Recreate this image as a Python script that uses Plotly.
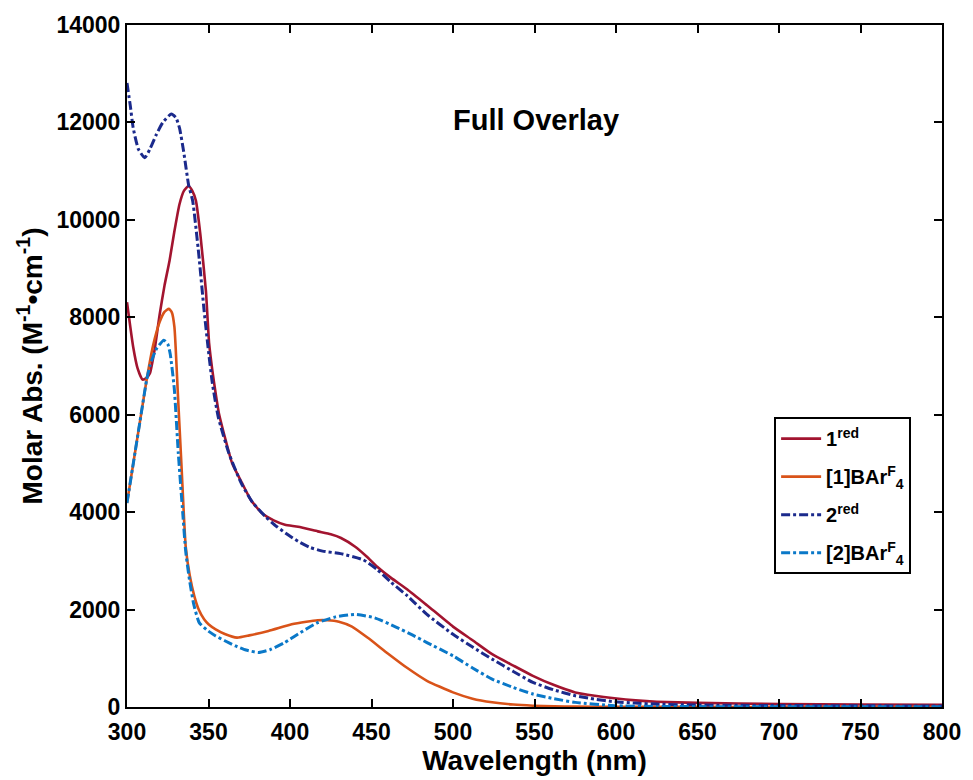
import plotly.graph_objects as go

# Molar absorptivity spectra (nm, M^-1 cm^-1)
wl_1red = [300, 303.8, 306.5, 309.5, 312, 314, 317, 320, 323, 326.1, 329, 332.2, 335,
           337.8, 340, 342.3, 345, 348.4, 350.4, 352.4, 354.4, 356.4, 360.5, 364.5,
           370.6, 376, 382.7, 390, 396.9, 405, 417, 425, 431.3, 440, 447, 453.5, 462,
           472, 484, 500, 512, 524, 537, 549, 562, 575, 587, 599, 612, 625, 650,
           700, 750, 800]
abs_1red = [8309, 7389, 6950, 6722, 6760, 6845, 7350, 8050, 8650, 9162, 9750, 10321,
            10600, 10695, 10600, 10389, 9700, 8548, 7458, 6900, 6436, 6027, 5481, 5004,
            4595, 4250, 3982, 3830, 3742, 3700, 3605, 3545, 3470, 3290, 3090, 2880,
            2650, 2413, 2090, 1650, 1370, 1084, 850, 640, 450, 300, 230, 178, 135, 108,
            85, 60, 50, 45]

wl_1ox = [300, 304, 308, 312, 316, 320, 323, 325.7, 327.5, 329.1, 331.1, 333.5, 336,
          338.5, 341.3, 344, 347.3, 350, 354.4, 360, 367.5, 375, 386.8, 401, 410, 417,
          423, 430, 438, 447.5, 460, 472, 484, 500, 512, 524, 537, 549, 562, 575, 600,
          650, 700, 800]
abs_1ox = [4186, 5030, 5870, 6707, 7420, 7900, 8110, 8174, 8100, 7798, 6503, 4900,
           3299, 2700, 2276, 2000, 1800, 1700, 1595, 1500, 1425, 1470, 1560, 1697,
           1750, 1780, 1780, 1750, 1650, 1425, 1100, 800, 538, 300, 170, 96, 50, 27,
           14, 8, 4, 2, 1, 1]

wl_2red = [300, 302, 303.8, 307, 310.9, 314, 318, 322, 327.1, 330, 332.2, 335, 337.8,
           340.3, 344, 347.3, 350, 352.4, 356, 362.5, 370, 377, 384.8, 392, 399,
           405, 412, 420, 431, 445, 453.5, 462, 472, 484, 500, 512, 524, 537, 549, 562,
           575, 587, 599, 612, 625, 650, 700, 750, 800]
abs_2red = [12808, 12350, 11888, 11450, 11274, 11450, 11752, 12000, 12174, 12100,
            11888, 11350, 10716, 10389, 9300, 8139, 7300, 6640, 5950, 5209, 4600,
            4200, 3912, 3700, 3530, 3400, 3280, 3200, 3149, 3020, 2822, 2560, 2280,
            1900, 1493, 1230, 982, 730, 505, 350, 231, 160, 108, 80, 60, 40, 30, 25, 20]

wl_2ox = [300, 304, 308, 312, 314, 318, 322.6, 325, 326.5, 329, 331.5, 334.2, 336,
          338.3, 341, 344.3, 349, 354.4, 360, 366.5, 373, 380.7, 388, 396.8, 405, 417,
          428, 440, 452, 465, 475, 484, 500, 512, 524, 537, 549, 562, 575, 599, 625,
          650, 700, 800]
abs_2ox = [4186, 5030, 5870, 6707, 7000, 7350, 7530, 7450, 7250, 6540, 5200, 3982,
           3200, 2618, 2100, 1732, 1580, 1458, 1360, 1254, 1170, 1119, 1180, 1323,
           1500, 1732, 1850, 1902, 1830, 1640, 1480, 1323, 1049, 800, 573, 400, 266,
           170, 95, 27, 12, 8, 6, 5]

series = [
    ("1<sup>red</sup>", wl_1red, abs_1red, "#A2142F", "solid", 2.6),
    ("[1]BAr<sup>F</sup><sub>4</sub>", wl_1ox, abs_1ox, "#D95319", "solid", 2.6),
    ("2<sup>red</sup>", wl_2red, abs_2red, "#1B2A8C", "dashdot", 3),
    ("[2]BAr<sup>F</sup><sub>4</sub>", wl_2ox, abs_2ox, "#0A78C8", "dashdot", 3),
]

FONT = "Liberation Sans, Arial, sans-serif"

fig = go.Figure()
for i, (name, x, y, color, dash, width) in enumerate(series):
    fig.add_trace(go.Scatter(
        x=x, y=y, mode="lines", name=name, legendgroup=f"g{i}",
        line=dict(color=color, dash=dash, width=width, shape="spline", smoothing=0.5),
    ))

axis_common = dict(
    showline=True, linecolor="black", linewidth=2, mirror="allticks",
    ticks="inside", ticklen=8, tickwidth=2, tickcolor="black",
    showgrid=False, zeroline=False, tickformat="d",
    tickfont=dict(family=FONT, size=23, color="black", weight="bold"),
)

fig.update_xaxes(
    range=[300, 800], dtick=50, tick0=300, ticklabelstandoff=3,
    title=dict(text="Wavelength (nm)",
               font=dict(family=FONT, size=28, color="black", weight="bold"),
               standoff=4),
    **axis_common,
)
fig.update_yaxes(
    range=[0, 14000], dtick=2000, tick0=0,
    title=dict(text="Molar Abs. (M<sup>-1</sup>•cm<sup>-1</sup>)",
               font=dict(family=FONT, size=28, color="black", weight="bold"),
               standoff=6),
    **axis_common,
)

fig.add_annotation(
    text="Full Overlay", xref="paper", yref="paper",
    x=0.502, y=0.86, showarrow=False, xanchor="center", yanchor="middle",
    font=dict(family=FONT, size=29, color="black", weight="bold"),
)

fig.update_layout(
    width=973, height=780,
    margin=dict(l=127, r=25, t=23, b=72),
    paper_bgcolor="white", plot_bgcolor="white",
    showlegend=True,
    legend=dict(
        x=0.794, y=0.425, xanchor="left", yanchor="top",
        bgcolor="white", bordercolor="black", borderwidth=2,
        font=dict(family=FONT, size=20, color="black", weight="bold"),
        tracegroupgap=9, itemwidth=40,
    ),
)

fig.write_html("out.html")
